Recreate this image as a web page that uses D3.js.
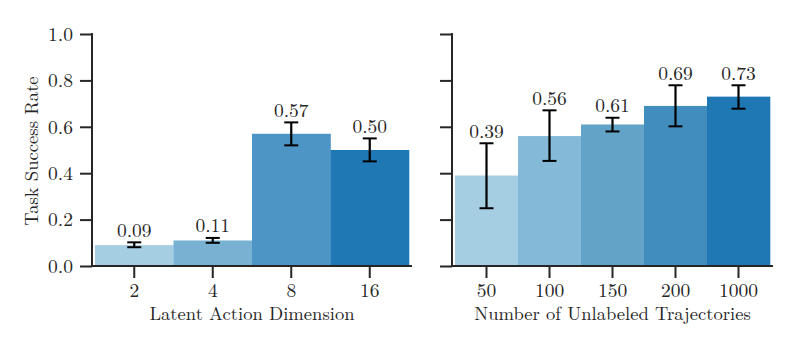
<!DOCTYPE html>
<html><head><meta charset="utf-8">
<script src="https://cdn.jsdelivr.net/npm/d3@7"></script>
<style>body{margin:0;background:#fff}svg{display:block}text{font-family:"Latin Modern Roman","CMU Serif","DejaVu Serif",serif;fill:#262626}</style>
</head><body><svg id="c" width="800" height="350"></svg>
<script>
const leftCats = ["2","4","8","16"];
const leftVals = [0.09,0.11,0.57,0.50];
const leftLo = [0.081,0.100,0.520,0.451];
const leftHi = [0.102,0.121,0.619,0.550];
const rightCats = ["50","100","150","200","1000"];
const rightVals = [0.39,0.56,0.61,0.69,0.73];
const rightLo = [0.249,0.453,0.580,0.602,0.678];
const rightHi = [0.529,0.671,0.639,0.779,0.779];
const yTicks = [0,0.2,0.4,0.6,0.8,1.0];
const leftColors = ["#a6cee3","#79b1d3","#4c95c4","#1f78b4"];
const rightColors = ["#a6cee3","#84b9d7","#63a3c8","#418ebe","#1f78b4"];

const svg = d3.select("#c");
const ink = "#262626";
const FS = 19.5, TS = 18.6;
const y = d3.scaleLinear().domain([0,1]).range([266,34]);

function panel(opt){
  const g = svg.append("g");
  const x = d3.scaleBand().domain(opt.cats).range([opt.x0,opt.x1]).padding(0);
  g.selectAll("rect").data(opt.vals).join("rect")
    .attr("x",(d,i)=>x(opt.cats[i])).attr("width",x.bandwidth()+0.3)
    .attr("y",d=>y(d)).attr("height",d=>y(0)-y(d))
    .attr("fill",(d,i)=>opt.colors[i]);
  opt.vals.forEach((d,i)=>{
    const cx = x(opt.cats[i])+x.bandwidth()/2;
    g.append("line").attr("x1",cx).attr("x2",cx).attr("y1",y(opt.lo[i])).attr("y2",y(opt.hi[i])).attr("stroke","#000").attr("stroke-width",2.2);
    [opt.lo[i],opt.hi[i]].forEach(v=>g.append("line").attr("x1",cx-7).attr("x2",cx+7).attr("y1",y(v)).attr("y2",y(v)).attr("stroke","#000").attr("stroke-width",2));
    g.append("text").attr("x",cx).attr("y",y(opt.hi[i])-5.5).attr("text-anchor","middle").attr("font-size",FS).text(d.toFixed(2));
  });
  const ya = d3.axisLeft(y).tickValues(yTicks).tickSize(12).tickPadding(7).tickFormat(opt.ylabels?d3.format(".1f"):"");
  const yg = g.append("g").attr("transform",`translate(${opt.sx0},0)`).call(ya);
  yg.select(".domain").remove();
  yg.selectAll("line").attr("stroke",ink).attr("stroke-width",2);
  yg.selectAll("text").attr("font-size",FS).attr("font-family",null).attr("fill",ink).attr("dy","0.32em");
  g.append("line").attr("x1",opt.sx0).attr("x2",opt.sx0).attr("y1",33).attr("y2",267).attr("stroke",ink).attr("stroke-width",2);
  const xa = d3.axisBottom(x).tickSize(12).tickPadding(4);
  const xg = g.append("g").attr("transform",`translate(0,266)`).call(xa);
  xg.select(".domain").remove();
  xg.selectAll("line").attr("stroke",ink).attr("stroke-width",2);
  xg.selectAll("text").attr("font-size",FS).attr("font-family",null).attr("fill",ink).attr("dy",null).attr("y",30.5);
  g.append("line").attr("x1",opt.sx0-1).attr("x2",opt.sx1).attr("y1",266).attr("y2",266).attr("stroke",ink).attr("stroke-width",2);
  g.append("text").attr("x",(opt.sx0+opt.sx1)/2).attr("y",319.5).attr("text-anchor","middle").attr("font-size",TS).text(opt.xlabel);
  return g;
}
panel({cats:leftCats,vals:leftVals,lo:leftLo,hi:leftHi,colors:leftColors,x0:95,x1:409,sx0:92,sx1:412,ylabels:true,xlabel:"Latent Action Dimension"});
panel({cats:rightCats,vals:rightVals,lo:rightLo,hi:rightHi,colors:rightColors,x0:455,x1:770,sx0:452,sx1:773,ylabels:false,xlabel:"Number of Unlabeled Trajectories"});
svg.append("text").attr("transform","translate(38,151) rotate(-90)").attr("text-anchor","middle").attr("font-size",TS).text("Task Success Rate");
</script></body></html>
